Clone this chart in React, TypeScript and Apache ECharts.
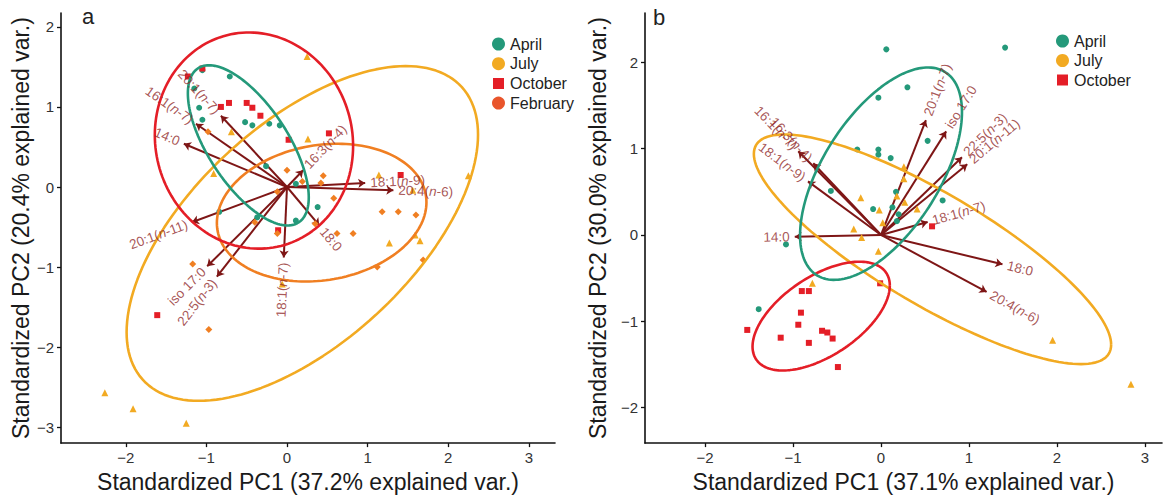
import React, { useEffect, useRef } from 'react';
import * as echarts from 'echarts';

const FONT = '"Liberation Sans", Arial, Helvetica, sans-serif';

// ---------- Panel a data ----------
const aprilA = [
  [-1.15, 1.23], [-1.09, 0.99], [-1.05, 0.84], [-0.71, 1.38], [-1.05, 1.46], [-0.52, 0.81],
  [-0.43, 0.77], [-0.22, 0.79], [-0.09, 0.77], [-0.26, 0.26], [0.11, 0.04], [0.38, -0.25],
  [-0.84, -0.31], [-0.37, -0.38], [0.11, -0.42],
];
const julyA = [
  [0.25, 1.63], [-0.69, 0.69], [-0.91, 0.17], [0.26, 0.6], [1.14, 0.15], [2.25, 0.14],
  [1.56, -0.04], [1.27, -0.7], [1.59, -0.6], [1.65, -0.67], [-2.26, -2.57], [-1.91, -2.77],
  [-1.25, -2.95], [-0.06, -1.21],
];
const octoberA = [
  [-1.23, 1.38], [-1.05, 1.48], [-0.82, 1.0], [-0.72, 1.05], [-0.5, 1.05], [-0.43, 0.99],
  [-0.33, 0.89], [0.02, 0.59], [0.52, 0.67], [-0.11, -0.54], [1.41, 0.15], [-1.61, -1.6],
];
const februaryA = [
  [-0.98, 0.69], [0.0, 0.21], [0.19, 0.07], [0.45, 0.14], [0.42, 0.05], [-0.12, -0.06],
  [0.58, -0.14], [0.35, -0.46], [-0.4, -0.44], [-0.12, -0.58], [0.62, -0.58], [0.82, -0.58],
  [1.18, -0.31], [1.38, -0.31], [1.6, -0.35], [1.12, -1.0], [1.69, -0.91], [-1.17, -0.96],
  [-0.97, -1.78],
];
const varNamesA = ['14:0', '16:1(n-7)', '20:1(n-7)', '16:3(n-4)', '18:1(n-9)', '20:4(n-6)', '18:0', '18:1(n-7)', 'iso 17:0', '22:5(n-3)', '20:1(n-11)'];
const loadingsA = [
  [-1.28, 0.54], [-1.13, 0.79], [-0.82, 0.89], [0.2, 0.21], [0.97, 0.05], [1.32, -0.04],
  [0.4, -0.48], [-0.04, -0.88], [-0.99, -0.99], [-0.87, -1.12], [-1.18, -0.44],
];
// ellipse: [cx, cy, halfWidth, halfHeight, rho]
const ellipseAprilA = [-0.48, 0.52, 0.75, 1.0, -0.65];
const ellipseOctoberA = [-0.41, 0.58, 1.23, 1.35, -0.05];
const ellipseFebruaryA = [0.43, -0.32, 1.3, 0.86, 0.15];
const ellipseJulyA = [0.19, -0.58, 2.18, 2.09, 0.59];

// ---------- Panel b data ----------
const aprilB = [
  [0.06, 2.15], [1.41, 2.17], [0.3, 1.71], [-0.03, 1.59], [-0.27, 0.99], [-0.03, 0.99],
  [-0.03, 0.93], [0.11, 0.89], [0.53, 1.09], [-0.57, 0.51], [0.17, 0.5], [-0.09, 0.3],
  [0.13, 0.32], [0.2, 0.24], [0.18, 0.16], [0.7, 0.4], [-1.08, -0.11], [-1.39, -0.86],
];
const julyB = [
  [0.26, 0.79], [0.26, 0.65], [-0.23, 0.43], [0.18, 0.45], [0.27, 0.38], [-0.02, 0.29],
  [0.41, 0.3], [0.02, 0.14], [-0.31, 0.07], [-0.22, -0.03], [-0.03, -0.19], [-0.78, -0.56],
  [1.95, -1.22], [2.84, -1.73],
];
const octoberB = [
  [0.58, 0.1], [-0.9, -0.65], [-0.82, -0.65], [-0.01, -0.56], [-0.91, -0.9], [-0.94, -1.04],
  [-1.52, -1.1], [-1.14, -1.19], [-0.67, -1.11], [-0.61, -1.13], [-0.55, -1.2], [-0.82, -1.25],
  [-0.49, -1.53],
];
const varNamesB = ['14:0', '16:1(n-7)', '16:3(n-4)', '18:1(n-9)', '20:1(n-7)', 'iso 17:0', '22:5(n-3)', '20:1(n-11)', '18:1(n-7)', '18:0', '20:4(n-6)'];
const loadingsB = [
  [-0.98, -0.02], [-0.94, 0.97], [-0.77, 0.83], [-0.83, 0.62], [0.51, 1.33], [0.74, 1.2],
  [0.92, 0.9], [0.98, 0.82], [0.53, 0.15], [1.38, -0.34], [1.2, -0.66],
];
const ellipseAprilB = [0.0, 0.71, 0.92, 1.23, 0.58];
const ellipseJulyB = [0.585, -0.166, 2.03, 1.33, -0.83];
const ellipseOctoberB = [-0.68, -0.94, 0.78, 0.63, 0.56];

const xTicks = [-2, -1, 0, 1, 2, 3];
const yTicksA = [-3, -2, -1, 0, 1, 2];
const yTicksB = [-2, -1, 0, 1, 2];

const C_APRIL = '#24997a';
const C_JULY = '#f2aa22';
const C_OCT = '#e41e27';
const C_FEB = '#f07f22';
const C_FEB_LEG = '#e9552b';
const C_ARROW = '#7e1616';
const C_LABEL = '#922c2c';

function ellipsePoints(e: number[]) {
  const [cx, cy, hx, hy, rho] = e;
  const d = Math.acos(rho);
  const pts: number[][] = [];
  const N = 160;
  for (let i = 0; i <= N; i++) {
    const t = (2 * Math.PI * i) / N;
    pts.push([cx + hx * Math.cos(t), cy + hy * Math.cos(t - d)]);
  }
  return pts;
}

function fmt(v: number) {
  return v < 0 ? '\u2212' + Math.abs(v) : String(v);
}

function axisCommon(ticks: number[]) {
  return {
    type: 'value',
    splitLine: { show: false },
    axisLine: { show: true, onZero: false, lineStyle: { color: '#111', width: 1.6 } },
    axisTick: { show: true, customValues: ticks, length: 4, lineStyle: { color: '#111', width: 1.3 } },
    axisLabel: { customValues: ticks, formatter: fmt, color: '#333', fontSize: 15, fontFamily: FONT, margin: 7 },
    nameLocation: 'middle',
    nameTextStyle: { fontSize: 23, color: '#1a1a1a', fontFamily: FONT },
  };
}

function panelSeries(idx: number, groups: any[], ellipses: any[], names: string[], loads: number[][]) {
  const s: any[] = [];
  s.push({
    type: 'lines',
    coordinateSystem: 'cartesian2d',
    xAxisIndex: idx,
    yAxisIndex: idx,
    symbol: ['none', 'arrow'],
    symbolSize: 7,
    lineStyle: { color: C_ARROW, width: 2, opacity: 1 },
    data: loads.map((l) => ({ coords: [[0, 0], l] })),
    z: 2,
  });
  groups.forEach((g) => {
    s.push({
      type: 'scatter',
      name: g.name,
      xAxisIndex: idx,
      yAxisIndex: idx,
      symbol: g.symbol,
      symbolSize: g.size,
      itemStyle: { color: g.color, opacity: 1 },
      data: g.data,
      z: 3,
    });
  });
  ellipses.forEach((e) => {
    s.push({
      type: 'line',
      xAxisIndex: idx,
      yAxisIndex: idx,
      showSymbol: false,
      symbol: 'none',
      smooth: false,
      lineStyle: { color: e.color, width: 2.6 },
      data: ellipsePoints(e.p),
      z: 4,
      silent: true,
    });
  });
  s.push({
    type: 'scatter',
    xAxisIndex: idx,
    yAxisIndex: idx,
    symbolSize: 1,
    itemStyle: { color: 'rgba(0,0,0,0)' },
    z: 5,
    silent: true,
    data: loads.map((l, i) => {
      const right = l[0] >= 0;
      const ang = (Math.atan(l[1] / l[0]) * 180) / Math.PI;
      return {
        name: names[i],
        value: l,
        label: {
          show: true,
          position: 'inside',
          rotate: ang,
          align: right ? 'left' : 'right',
          verticalAlign: 'middle',
          padding: right ? [0, 0, 0, 5] : [0, 5, 0, 0],
        },
      };
    }),
    label: {
      show: true,
      color: C_LABEL,
      fontSize: 13.5,
      fontFamily: FONT,
      formatter: (p: any) => p.name.replace('(n', '({i|n}'),
      rich: { i: { fontStyle: 'italic', color: C_LABEL, fontSize: 13.5, fontFamily: FONT } },
    },
  });
  return s;
}

export default function App() {
  const ref = useRef<HTMLDivElement>(null);
  useEffect(() => {
    document.body.style.margin = '0';
    const chart = echarts.init(ref.current!, null, { renderer: 'svg' });
    const seriesA = panelSeries(
      0,
      [
        { name: 'April', data: aprilA, color: C_APRIL, symbol: 'circle', size: 6 },
        { name: 'July', data: julyA, color: C_JULY, symbol: 'triangle', size: 7 },
        { name: 'October', data: octoberA, color: C_OCT, symbol: 'rect', size: 6 },
        { name: 'February', data: februaryA, color: C_FEB, symbol: 'diamond', size: 7 },
      ],
      [
        { p: ellipseJulyA, color: C_JULY },
        { p: ellipseFebruaryA, color: C_FEB },
        { p: ellipseOctoberA, color: C_OCT },
        { p: ellipseAprilA, color: C_APRIL },
      ],
      varNamesA,
      loadingsA
    );
    const seriesB = panelSeries(
      1,
      [
        { name: 'April', data: aprilB, color: C_APRIL, symbol: 'circle', size: 6 },
        { name: 'July', data: julyB, color: C_JULY, symbol: 'triangle', size: 7 },
        { name: 'October', data: octoberB, color: C_OCT, symbol: 'rect', size: 6 },
      ],
      [
        { p: ellipseJulyB, color: C_JULY },
        { p: ellipseOctoberB, color: C_OCT },
        { p: ellipseAprilB, color: C_APRIL },
      ],
      varNamesB,
      loadingsB
    );
    const legendText = { fontSize: 16, lineHeight: 16, color: '#222', fontFamily: FONT };
    chart.setOption({
      animation: false,
      backgroundColor: '#fff',
      grid: [
        { left: 61, top: 13, width: 494, height: 435 },
        { left: 645, top: 13, width: 517, height: 436 },
      ],
      xAxis: [
        { ...axisCommon(xTicks), gridIndex: 0, min: -2.804, max: 3.325, name: 'Standardized PC1 (37.2% explained var.)', nameGap: 25 },
        { ...axisCommon(xTicks), gridIndex: 1, min: -2.682, max: 3.193, name: 'Standardized PC1 (37.1% explained var.)', nameGap: 25 },
      ],
      yAxis: [
        { ...axisCommon(yTicksA), gridIndex: 0, min: -3.198, max: 2.173, name: 'Standardized PC2 (20.4% explained var.)', nameGap: 27 },
        { ...axisCommon(yTicksB), gridIndex: 1, min: -2.411, max: 2.571, name: 'Standardized PC2 (30.0% explained var.)', nameGap: 36 },
      ],
      legend: [
        {
          orient: 'vertical',
          left: 486,
          top: 31,
          itemWidth: 13,
          itemHeight: 13,
          itemGap: 3.7,
          textStyle: legendText,
          data: [
            { name: 'April', icon: 'circle' },
            { name: 'July', icon: 'circle' },
            { name: 'October', icon: 'rect', itemStyle: { borderColor: '#fff', borderWidth: 2 } },
            { name: 'February', icon: 'circle', itemStyle: { color: C_FEB_LEG } },
          ],
        },
        {
          orient: 'vertical',
          left: 1050,
          top: 28,
          itemWidth: 13,
          itemHeight: 13,
          itemGap: 3.5,
          textStyle: legendText,
          data: [
            { name: 'April', icon: 'circle' },
            { name: 'July', icon: 'circle' },
            { name: 'October', icon: 'rect', itemStyle: { borderColor: '#fff', borderWidth: 2 } },
          ],
        },
      ],
      graphic: [
        { type: 'text', left: 82, top: 5, style: { text: 'a', fontSize: 22, fill: '#222', fontFamily: FONT } },
        { type: 'text', left: 653, top: 6, style: { text: 'b', fontSize: 22, fill: '#222', fontFamily: FONT } },
      ],
      series: [...seriesA, ...seriesB],
    });
    return () => chart.dispose();
  }, []);
  return <div ref={ref} style={{ width: 1164, height: 498 }} />;
}
